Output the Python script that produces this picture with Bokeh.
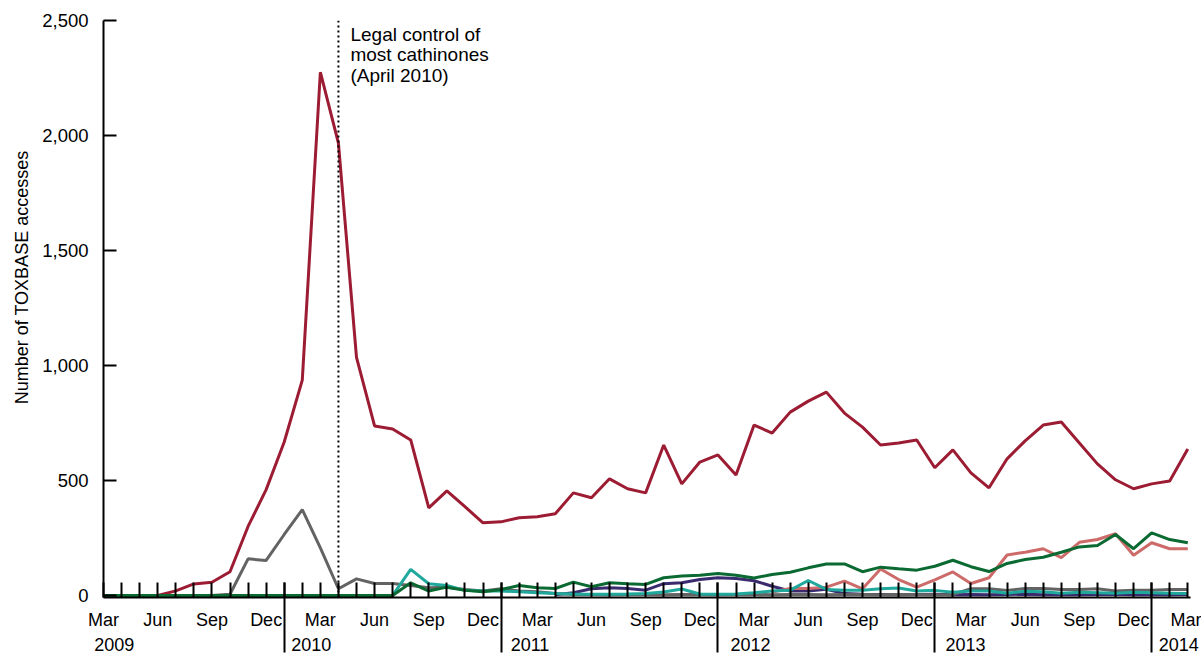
import numpy as np
from bokeh.plotting import figure
from bokeh.models import Range1d, LinearAxis, FixedTicker, NumeralTickFormatter, Span, Label, Title
from bokeh.embed import file_html
from bokeh.resources import INLINE

nan = np.nan

# months indexed from March 2009 (0) to March 2014 (60)
months = list(range(61))
month_names = ["Mar", "Apr", "May", "Jun", "Jul", "Aug", "Sep", "Oct", "Nov", "Dec", "Jan", "Feb"]
shown_months = ["Mar", "Jun", "Sep", "Dec"]
years = ["2009", "2010", "2011", "2012", "2013", "2014"]
year_label_at = [0.6, 11.5, 23.6, 35.8, 47.7, 59.5]
jan_months = [m for m in months if month_names[m % 12] == "Jan"]
y_ticks = [0, 500, 1000, 1500, 2000, 2500]
y_title = "Number of TOXBASE accesses"
event_month = 13  # April 2010
event_text = "Legal control of\nmost cathinones\n(April 2010)"

red = [0, 0, 0, 0, 20, 50, 57, 103, 300, 460,
       667, 936, 2275, 1967, 1035, 737, 724, 676, 381, 455,
       386, 316, 320, 338, 342, 355, 446, 425, 507, 464,
       446, 654, 485, 580, 611, 524, 741, 706, 797, 845,
       884, 793, 732, 654, 663, 676, 555, 633, 533, 468,
       594, 672, 741, 754, 663, 572, 503, 464, 485, 498,
       637]
gray = [0, 0, 0, 0, 0, 0, 0, 5, 159, 152,
        265, 373, 207, 29, 72, 52, 52, 43, 33, 36,
        26, 19, 29, 19, 16, 8, 4, 4, 3, 4,
        4, 3, 4, 4, 3, 4, 4, 3, 4, 4,
        3, 4, 4, 3, 4, 4, 3, 4, 29, 29,
        22, 30, 30, 26, 26, 29, 19, 23, 23, 26,
        26]
teal = [0, 0, 0, 0, 0, 0, 0, 0, 0, 0,
        0, 0, 0, 0, 0, 0, 0, 113, 51, 43,
        22, 19, 19, 16, 12, 8, 6, 5, 5, 6,
        8, 15, 28, 6, 5, 6, 12, 19, 23, 65,
        26, 22, 23, 29, 32, 19, 22, 14, 19, 19,
        9, 18, 16, 9, 14, 12, 10, 14, 12, 10,
        8]
navy = [nan] * 25 + [3, 12, 29, 33, 30,
                     23, 51, 55, 69, 77, 74, 64, 40, 19, 19,
                     27, 8, 5, 4, 3, 4, 5, 3, 4, 3,
                     4, 5, 3, 4, 3, 4, 5, 3, 4, 3,
                     4]
pink = [nan] * 37 + [15, 30, 30,
                     36, 62, 29, 115, 69, 36, 68, 102, 52, 77,
                     176, 188, 203, 164, 231, 243, 268, 175, 229, 203,
                     203]
green = [0, 0, 0, 0, 0, 0, 0, 0, 0, 0,
         0, 0, 0, 0, 0, 0, 0, 55, 19, 36,
         22, 16, 26, 43, 33, 30, 58, 38, 55, 51,
         48, 77, 84, 88, 95, 88, 76, 91, 101, 120,
         137, 137, 103, 123, 116, 110, 127, 153, 125, 104,
         139, 156, 166, 188, 211, 217, 265, 203, 272, 243,
         229]

FONT = "Liberation Sans"

p = figure(width=1201, height=653, output_backend="svg", toolbar_location=None,
           x_range=Range1d(0, 60.15), y_range=Range1d(-9, 2500),
           x_axis_location=None, y_axis_location=None,
           min_border_left=103, min_border_right=11, min_border_top=20, min_border_bottom=55)
p.outline_line_color = None
p.xgrid.visible = False
p.ygrid.visible = False

month_labels = {m: (month_names[m % 12] if month_names[m % 12] in shown_months else "") for m in months}
ax_m = LinearAxis(ticker=FixedTicker(ticks=months, minor_ticks=jan_months),
                  major_label_overrides=month_labels,
                  major_tick_in=15, major_tick_out=0, minor_tick_in=15, minor_tick_out=55,
                  major_tick_line_width=2, minor_tick_line_width=2, axis_line_width=2,
                  major_label_text_font=FONT, major_label_text_font_size="18px",
                  major_label_text_line_height=1.0,
                  major_label_text_color="black", major_label_standoff=-43)
ax_y = LinearAxis(ticker=FixedTicker(ticks=year_label_at),
                  major_label_overrides={year_label_at[i]: years[i] for i in range(len(years))},
                  major_tick_line_color=None, minor_tick_line_color=None, axis_line_color=None,
                  major_label_text_font=FONT, major_label_text_font_size="18px",
                  major_label_text_line_height=1.0,
                  major_label_text_color="black", major_label_standoff=-1)
p.add_layout(ax_m, "below")
p.add_layout(ax_y, "below")

yax = LinearAxis(ticker=FixedTicker(ticks=y_ticks), formatter=NumeralTickFormatter(format="0,0"),
                 major_tick_in=13, major_tick_out=0, minor_tick_line_color=None,
                 major_tick_line_width=2, axis_line_width=2,
                 major_label_text_font=FONT, major_label_text_font_size="18.5px",
                 major_label_text_color="black", major_label_standoff=15)
p.add_layout(yax, "left")

# y-axis title, placed as in the original (above the vertical centre)
p.add_layout(Title(text=y_title, align="right", offset=130, vertical_align="bottom",
                   standoff=16, text_font=FONT, text_font_size="18px",
                   text_font_style="normal", text_color="black"), "left")

p.add_layout(Span(location=event_month, dimension="height", line_color="black",
                  line_width=2, line_dash="2 3"))
p.add_layout(Label(x=event_month, y=2500, x_offset=12, y_offset=-3, text=event_text,
                   text_font=FONT, text_font_size="19px", text_baseline="top",
                   text_line_height=0.99, text_color="black"))

p.line(months, red, line_color="#9c1c33", line_width=3)
p.line(months, navy, line_color="#3a2b6f", line_width=3)
p.line(months, gray, line_color="#636363", line_width=3)
p.line(months, pink, line_color="#cc6b69", line_width=3)
p.line(months, teal, line_color="#1fa89b", line_width=3)
p.line(months, green, line_color="#0b6a32", line_width=3)

open("out.html", "w").write(file_html(p, INLINE))
